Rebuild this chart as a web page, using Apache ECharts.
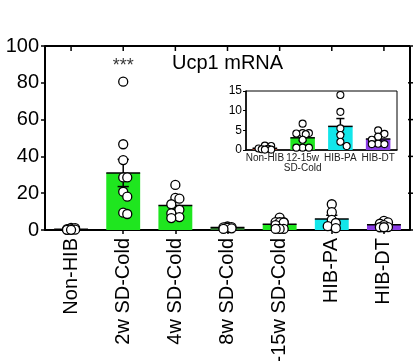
<!DOCTYPE html>
<html><head><meta charset="utf-8">
<script src="https://cdn.jsdelivr.net/npm/echarts@6/dist/echarts.min.js"></script>
<style>html,body{margin:0;padding:0;background:#fff}#c{width:417px;height:361px}</style>
</head><body><div id="c"></div>
<script>
// ---- data ----
const categories = ['Non-HIB', '2w SD-Cold', '4w SD-Cold', '8w SD-Cold', '12-15w SD-Cold', 'HIB-PA', 'HIB-DT'];
const means = [0.45, 31.0, 13.3, 1.3, 3.1, 6.0, 2.8];
const sems = [0.15, 7.4, 2.2, 0.2, 0.7, 2.0, 0.5];
const pointsNonHIB = [1.1, 1.0, 0.4, 0.3, 0.2, 0.1, 0.1];
const points2w = [80.6, 46.6, 38.0, 28.6, 28.6, 20.8, 18.1, 9.4, 8.7];
const points4w = [24.5, 17.5, 17.0, 14.0, 11.0, 9.0, 7.0, 6.5];
const points8w = [1.9, 1.6, 1.4, 1.2, 0.9, 0.6];
const points1215 = [6.7, 4.3, 4.3, 4.2, 4.0, 2.6, 0.6, 0.6, 0.6];
const pointsPA = [14.0, 9.7, 5.5, 3.8, 2.1, 1.0];
const pointsDT = [5.0, 4.1, 3.4, 2.6, 1.6, 1.5, 1.5];
const insetCategories = ['Non-HIB', '12-15w\nSD-Cold', 'HIB-PA', 'HIB-DT'];
const insetSource = [0, 4, 5, 6]; // which main groups appear in the inset
const yTicks = [0, 20, 40, 60, 80, 100];
const insetTicks = [0, 5, 10, 15];
const title = 'Ucp1 mRNA';
const significance = { category: 1, value: 89, text: '***' };

// ---- styles ----
const barColors = ['#a0402a', '#1fe61f', '#1fe61f', '#2d7a2d', '#1fe61f', '#12e6ea', '#8a3ce6'];
const FONT = '"Liberation Sans", Arial, Helvetica, sans-serif';
const allPoints = [pointsNonHIB, points2w, points4w, points8w, points1215, pointsPA, pointsDT];

const main = { left: 45, top: 46, right: 7, bottom: 131 };
const inset = { left: 246, top: 91, width: 151, height: 59 };
const mainPx = (361 - main.top - main.bottom) / (yTicks[yTicks.length - 1] - yTicks[0]);
const insetPx = inset.height / (insetTicks[insetTicks.length - 1] - insetTicks[0]);

// simple beeswarm: horizontal pixel offsets so circles do not pile up
function swarm(vals, px, diam, maxOff) {
  const placed = [];
  const step = diam * 0.45;
  const cands = [0];
  for (let k = 1; k * step <= maxOff + 0.01; k++) { cands.push(k * step, -k * step); }
  return vals.map(v => {
    const y = v * px;
    let best = 0, bestD = -1;
    for (const dx of cands) {
      let md = Infinity;
      for (const p of placed) md = Math.min(md, Math.hypot(p[0] - dx, p[1] - y));
      if (md >= diam * 0.85) { best = dx; bestD = Infinity; break; }
      if (md > bestD) { bestD = md; best = dx; }
    }
    placed.push([best, y]);
    return best;
  });
}

function scatterData(groups, px, diam, maxOff) {
  const out = [];
  groups.forEach((vals, i) => {
    const offs = swarm(vals, px, diam, maxOff);
    vals.forEach((v, j) => out.push({ value: [i, v], symbolOffset: [offs[j], 0] }));
  });
  return out;
}

function errRender(widthFrac) {
  return function (params, api) {
    const i = api.value(0), m = api.value(1), s = api.value(2);
    const c = api.coord([i, m]);
    const top = api.coord([i, m + s]);
    const bot = api.coord([i, Math.max(m - s, 0)]);
    const bw = api.size([1, 0])[0] * widthFrac;
    const cap = bw * 0.33;
    const st = { stroke: '#000', lineWidth: 1.5 };
    return {
      type: 'group', children: [
        { type: 'line', shape: { x1: c[0] - bw / 2, y1: c[1], x2: c[0] + bw / 2, y2: c[1] }, style: st },
        { type: 'line', shape: { x1: c[0], y1: top[1], x2: c[0], y2: bot[1] }, style: st },
        { type: 'line', shape: { x1: c[0] - cap / 2, y1: top[1], x2: c[0] + cap / 2, y2: top[1] }, style: st },
        { type: 'line', shape: { x1: c[0] - cap / 2, y1: bot[1], x2: c[0] + cap / 2, y2: bot[1] }, style: st }
      ]
    };
  };
}

// frame (top + right sides) with mirrored ticks, built from the main axes' scales
function frameRender(params, api) {
  const cs = params.coordSys;
  const st = { stroke: '#000', lineWidth: 2, fill: null };
  const tk = { stroke: '#000', lineWidth: 1.5 };
  const kids = [
    { type: 'line', shape: { x1: cs.x, y1: cs.y, x2: cs.x + cs.width, y2: cs.y }, style: st },
    { type: 'line', shape: { x1: cs.x + cs.width, y1: cs.y, x2: cs.x + cs.width, y2: cs.y + cs.height }, style: st }
  ];
  categories.forEach((c, i) => {
    const x = api.coord([i, 0])[0];
    kids.push({ type: 'line', shape: { x1: x, y1: cs.y, x2: x, y2: cs.y + 5 }, style: tk });
  });
  yTicks.forEach(v => {
    const y = api.coord([0, v])[1];
    kids.push({ type: 'line', shape: { x1: cs.x + cs.width - 2, y1: y, x2: cs.x + cs.width + 3, y2: y }, style: tk });
  });
  return { type: 'group', children: kids };
}

const insetMeans = insetSource.map(i => means[i]);
const insetSems = insetSource.map(i => sems[i]);
const insetPoints = insetSource.map(i => allPoints[i]);
const insetColors = insetSource.map(i => barColors[i]);

const chart = echarts.init(document.getElementById('c'), null, { renderer: 'canvas' });
const axLine = w => ({ show: true, onZero: false, lineStyle: { color: '#000', width: w } });
chart.setOption({
  animation: false,
  backgroundColor: '#fff',
  textStyle: { fontFamily: FONT },
  title: {
    text: title, left: 167, top: 48,
    textStyle: { fontFamily: FONT, fontSize: 20, fontWeight: 'normal', color: '#000' }
  },
  grid: [
    { left: main.left, top: main.top, right: main.right, bottom: main.bottom,
      containLabel: false, outerBoundsMode: 'none' },
    { left: inset.left, top: inset.top, width: inset.width, height: inset.height,
      containLabel: false, outerBoundsMode: 'none',
      show: true, backgroundColor: '#fff', borderColor: '#000', borderWidth: 1, z: 5 }
  ],
  xAxis: [
    { type: 'category', gridIndex: 0, data: categories, position: 'bottom',
      axisLine: axLine(2), axisTick: { show: true, alignWithLabel: true, length: 4, lineStyle: { width: 1.5, color: '#000' } },
      axisLabel: { rotate: 90, fontSize: 20, color: '#000', margin: 8, fontFamily: FONT, interval: 0 } },
    { type: 'category', gridIndex: 1, data: insetCategories, position: 'bottom',
      axisLine: axLine(1.5), axisTick: { show: false },
      axisLabel: { fontSize: 10, color: '#222', margin: 3, lineHeight: 10, fontFamily: FONT, interval: 0 }, z: 6 }
  ],
  yAxis: [
    { type: 'value', gridIndex: 0, min: yTicks[0], max: yTicks[yTicks.length - 1], interval: yTicks[1] - yTicks[0],
      axisLine: axLine(2), axisTick: { show: true, length: 4, lineStyle: { width: 1.5, color: '#000' } },
      splitLine: { show: false },
      axisLabel: { fontSize: 20, color: '#000', margin: 6, fontFamily: FONT } },
    { type: 'value', gridIndex: 1, min: insetTicks[0], max: insetTicks[insetTicks.length - 1], interval: insetTicks[1] - insetTicks[0],
      axisLine: axLine(1.5), axisTick: { show: true, length: 3, lineStyle: { width: 1, color: '#000' } },
      splitLine: { show: false },
      axisLabel: { fontSize: 12, color: '#000', margin: 4, fontFamily: FONT }, z: 6 }
  ],
  series: [
    { type: 'bar', xAxisIndex: 0, yAxisIndex: 0, barWidth: '65%',
      data: means.map((m, i) => ({ value: m, itemStyle: { color: barColors[i] } })), z: 2 },
    { type: 'custom', xAxisIndex: 0, yAxisIndex: 0, renderItem: errRender(0.65),
      data: means.map((m, i) => [i, m, sems[i]]), z: 3 },
    { type: 'scatter', xAxisIndex: 0, yAxisIndex: 0, symbol: 'circle', symbolSize: 9,
      itemStyle: { color: '#fff', borderColor: '#000', borderWidth: 1.3, opacity: 1 },
      data: scatterData(allPoints, mainPx, 9, 8), z: 4 },
    { type: 'scatter', xAxisIndex: 0, yAxisIndex: 0, symbolSize: 0,
      data: [[significance.category, significance.value]],
      label: { show: true, formatter: significance.text, position: 'inside', fontSize: 18, color: '#000', fontFamily: FONT }, z: 4 },
    { type: 'custom', xAxisIndex: 0, yAxisIndex: 0, renderItem: frameRender, clip: false,
      data: [[0, 0]], z: 4, silent: true },
    { type: 'bar', xAxisIndex: 1, yAxisIndex: 1, barWidth: '65%',
      data: insetMeans.map((m, i) => ({ value: m, itemStyle: { color: insetColors[i] } })), z: 7 },
    { type: 'custom', xAxisIndex: 1, yAxisIndex: 1, renderItem: errRender(0.65),
      data: insetMeans.map((m, i) => [i, m, insetSems[i]]), z: 8 },
    { type: 'scatter', xAxisIndex: 1, yAxisIndex: 1, symbol: 'circle', symbolSize: 7,
      itemStyle: { color: '#fff', borderColor: '#000', borderWidth: 1.1, opacity: 1 },
      data: scatterData(insetPoints, insetPx, 7, 7), z: 9 }
  ]
});
</script></body></html>
